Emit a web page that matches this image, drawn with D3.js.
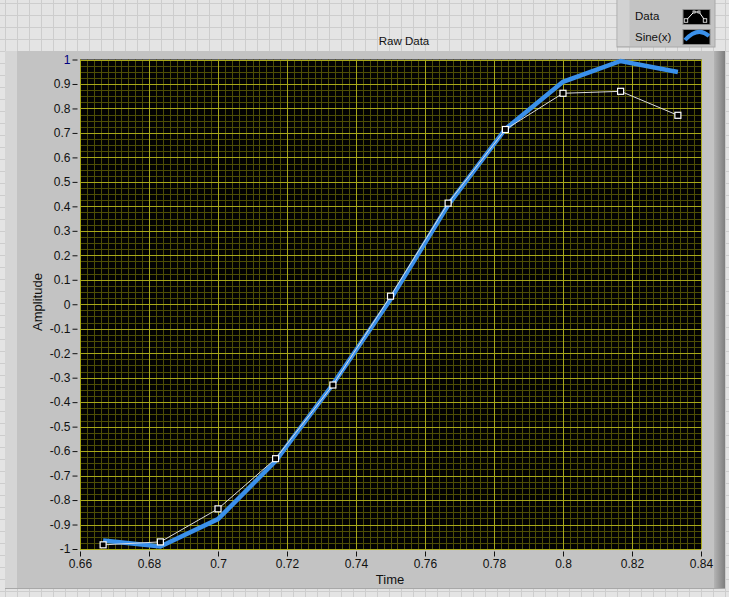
<!DOCTYPE html>
<html><head><meta charset="utf-8">
<script src="https://cdn.jsdelivr.net/npm/d3@7"></script>
<style>body{margin:0;background:#e4e4e4;}svg{display:block;font-family:"Liberation Sans",Arial,sans-serif;}</style>
</head><body>
<svg id="c" width="729" height="597"></svg>
<script>
const times = [0.6667, 0.6833, 0.7, 0.7167, 0.7333, 0.75, 0.7667, 0.7833, 0.8, 0.8167, 0.8333];
const dataValues = [-0.983, -0.971, -0.836, -0.631, -0.33, 0.033, 0.413, 0.714, 0.862, 0.870, 0.772];
const sineValues = [-0.965, -0.99, -0.878, -0.641, -0.327, 0.02, 0.405, 0.716, 0.909, 0.994, 0.949];
const xTicks = [0.66, 0.68, 0.7, 0.72, 0.74, 0.76, 0.78, 0.8, 0.82, 0.84];
const yTicks = [-1, -0.9, -0.8, -0.7, -0.6, -0.5, -0.4, -0.3, -0.2, -0.1, 0, 0.1, 0.2, 0.3, 0.4, 0.5, 0.6, 0.7, 0.8, 0.9, 1];
const legendLabels = ["Data", "Sine(x)"];

const W = 729, H = 597;
const svg = d3.select("#c");
const L = 80, R = 701, T = 59.5, B = 549;
const x = d3.scaleLinear().domain([0.66, 0.84]).range([L, R]);
const y = d3.scaleLinear().domain([-1, 1]).range([B, T]);

// page background grid
const bg = svg.append("g");
bg.append("rect").attr("width", W).attr("height", H).attr("fill", "#e4e4e4");
for (let gx = 5; gx < W; gx += 12) bg.append("line").attr("x1", gx + 0.5).attr("x2", gx + 0.5).attr("y1", 0).attr("y2", H).attr("stroke", "#cdcdcd");
for (let gy = 3; gy < H; gy += 12) bg.append("line").attr("y1", gy + 0.5).attr("y2", gy + 0.5).attr("x1", 0).attr("x2", W).attr("stroke", "#cdcdcd");

// panel
const defs = svg.append("defs");
const gr = defs.append("linearGradient").attr("id", "rg").attr("x1", "0").attr("x2", "1");
gr.append("stop").attr("offset", "0").attr("stop-color", "#b4b4b4");
gr.append("stop").attr("offset", "1").attr("stop-color", "#7e7e7e");
svg.append("rect").attr("x", 5).attr("y", 51).attr("width", 720).attr("height", 538).attr("fill", "#c3c3c3");
svg.append("rect").attr("x", 5).attr("y", 51).attr("width", 12).attr("height", 538).attr("fill", "#d5d5d5");
svg.append("rect").attr("x", 714).attr("y", 51).attr("width", 11).attr("height", 538).attr("fill", "url(#rg)");
svg.append("line").attr("x1", 5).attr("x2", 725).attr("y1", 588.5).attr("y2", 588.5).attr("stroke", "#a8a8a8");

// title
svg.append("text").attr("x", 404).attr("y", 45).attr("text-anchor", "middle").attr("font-size", 11.5).attr("fill", "#111").text("Raw Data");

// plot area
svg.append("rect").attr("x", L).attr("y", T).attr("width", R - L).attr("height", B - T).attr("fill", "#030303");
const grid = svg.append("g");
const minorX = d3.range(0, 91).map(i => 0.66 + i * 0.002);
const minorY = d3.range(0, 81).map(i => -1 + i * 0.025);
grid.selectAll(".mx").data(minorX).join("line").attr("x1", d => Math.round(x(d)) + 0.5).attr("x2", d => Math.round(x(d)) + 0.5).attr("y1", T).attr("y2", B).attr("stroke", "#4e4e05").attr("stroke-width", 1);
grid.selectAll(".my").data(minorY).join("line").attr("y1", d => Math.round(y(d)) + 0.5).attr("y2", d => Math.round(y(d)) + 0.5).attr("x1", L).attr("x2", R).attr("stroke", "#4e4e05").attr("stroke-width", 1);
grid.selectAll(".Mx").data(xTicks).join("line").attr("x1", d => Math.round(x(d)) + 0.5).attr("x2", d => Math.round(x(d)) + 0.5).attr("y1", T).attr("y2", B).attr("stroke", "#a8a81a").attr("stroke-width", 1);
grid.selectAll(".My").data(yTicks).join("line").attr("y1", d => Math.round(y(d)) + 0.5).attr("y2", d => Math.round(y(d)) + 0.5).attr("x1", L).attr("x2", R).attr("stroke", "#a8a81a").attr("stroke-width", 1);

// axes
const yAxis = d3.axisLeft(y).tickValues(yTicks).tickSize(5).tickPadding(2).tickFormat(d => String(+d.toFixed(1)));
const ya = svg.append("g").attr("transform", "translate(77.5,0)").call(yAxis);
const xAxis = d3.axisBottom(x).tickValues(xTicks).tickSize(5).tickPadding(3).tickFormat(d => String(+d.toFixed(2)));
const xa = svg.append("g").attr("transform", "translate(0,551.5)").call(xAxis);
[ya, xa].forEach(a => {
  a.select(".domain").remove();
  a.selectAll("text").attr("font-size", 12).attr("fill", "#111").attr("font-family", "Liberation Sans, Arial, sans-serif");
  a.selectAll("line").attr("stroke", "#111");
});
ya.selectAll(".tick text").filter(d => d === 1).attr("fill", "#000080");

svg.append("text").attr("x", 390).attr("y", 584).attr("text-anchor", "middle").attr("font-size", 13).attr("fill", "#111").text("Time");
svg.append("text").attr("transform", "translate(42,302) rotate(-90)").attr("text-anchor", "middle").attr("font-size", 13).attr("fill", "#111").text("Amplitude");

// series
const clip = defs.append("clipPath").attr("id", "pc");
clip.append("rect").attr("x", L).attr("y", T - 2).attr("width", R - L).attr("height", B - T + 2);
const series = svg.append("g").attr("clip-path", "url(#pc)");
const sinePts = times.map((t, i) => [t, sineValues[i]]);
const dataPts = times.map((t, i) => [t, dataValues[i]]);
const line = d3.line().x(d => x(d[0])).y(d => y(d[1]));
series.append("path").attr("d", line(sinePts)).attr("fill", "none").attr("stroke", "#3a90ea").attr("stroke-width", 4.5).attr("stroke-linejoin", "miter");
series.append("path").attr("d", line(dataPts)).attr("fill", "none").attr("stroke", "#dcdcdc").attr("stroke-width", 1);
series.selectAll(".pt").data(dataPts).join("rect")
  .attr("x", d => x(d[0]) - 3).attr("y", d => y(d[1]) - 3).attr("width", 6).attr("height", 6)
  .attr("fill", "#000").attr("stroke", "#fff").attr("stroke-width", 1.2);

// legend
const lg = svg.append("g");
lg.append("rect").attr("x", 617).attr("y", -2).attr("width", 98).attr("height", 49).attr("fill", "#c3c3c3").attr("stroke", "#a8a8a8");
lg.append("rect").attr("x", 617.5).attr("y", 0).attr("width", 12).attr("height", 46).attr("fill", "#d2d2d2");
lg.selectAll(".lt").data(legendLabels).join("text")
  .attr("x", 635).attr("y", (d, i) => 19.5 + i * 21).attr("font-size", 11.5).attr("fill", "#111").text(d => d);
lg.append("rect").attr("x", 683).attr("y", 9.5).attr("width", 27).attr("height", 15).attr("fill", "#000").attr("stroke", "#8a8a8a");
lg.append("rect").attr("x", 683).attr("y", 29.5).attr("width", 27).attr("height", 15).attr("fill", "#000").attr("stroke", "#8a8a8a");
lg.append("path").attr("d", "M686,20.5 L692,14 L694,12 L699,12 L705,20.5").attr("fill", "none").attr("stroke", "#fff").attr("stroke-width", 1);
[[686, 20.5], [705, 20.5], [694, 12], [699, 12]].forEach((p, i) => {
  const s = i < 2 ? 3.5 : 2;
  lg.append("rect").attr("x", p[0] - s / 2).attr("y", p[1] - s / 2).attr("width", s).attr("height", s).attr("fill", "#000").attr("stroke", "#fff").attr("stroke-width", 0.8);
});
lg.append("path").attr("d", "M685,40 Q698,26 709,36").attr("fill", "none").attr("stroke", "#3a90ea").attr("stroke-width", 4);
</script>
</body></html>
